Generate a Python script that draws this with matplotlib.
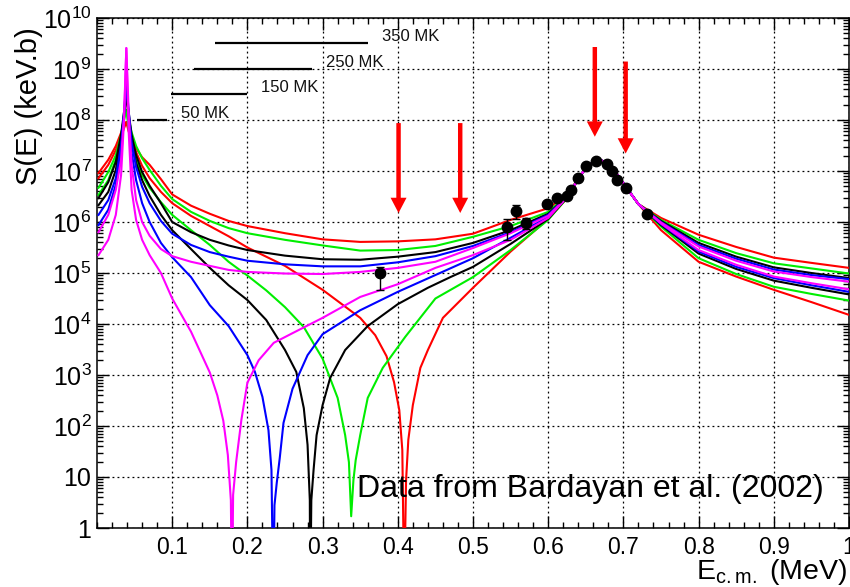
import matplotlib
matplotlib.use("Agg")
import matplotlib.pyplot as plt
from matplotlib.ticker import FixedLocator, FixedFormatter, NullFormatter

plt.rcParams['font.family'] = ['Liberation Sans', 'DejaVu Sans']
plt.rcParams['mathtext.default'] = 'regular'

# ---------------- data ----------------
# upper branches (no zero crossing) share one energy grid
energy_a = [0.002, 0.015, 0.025, 0.032, 0.036, 0.039, 0.042, 0.046, 0.052, 0.06,
            0.07, 0.085, 0.1, 0.125, 0.15, 0.175, 0.2, 0.25, 0.3, 0.35,
            0.4, 0.45, 0.5, 0.55, 0.6, 0.625, 0.645, 0.665, 0.685, 0.7,
            0.72, 0.75, 0.8, 0.85, 0.9, 0.95, 1.0]
red_a = [7.24e6, 1.32e7, 2.57e7, 4.68e7, 6.92e7, 9.12e7, 6.92e7, 4.07e7, 2.82e7, 1.86e7,
         1.32e7, 6.92e6, 3.47e6, 2.09e6, 1.45e6, 1.05e6, 8.32e5, 6.03e5, 4.57e5, 4.07e5,
         4.17e5, 4.57e5, 5.89e5, 1.10e6, 1.86e6, 3.4e6, 9.12e6, 1.82e7, 1.20e7, 5.75e6,
         2.24e6, 6.92e5, 1.66e5, 8.51e4, 4.68e4, 2.69e4, 1.51e4]
green_a = [3.39e6, 6.61e6, 1.66e7, 4.47e7, 1.0e8, 1.58e8, 1.10e8, 5.75e7, 3.09e7, 1.78e7,
           1.05e7, 5.13e6, 2.82e6, 1.58e6, 1.05e6, 7.59e5, 6.03e5, 4.47e5, 3.47e5, 2.75e5,
           2.82e5, 3.39e5, 5.13e5, 8.32e5, 1.58e6, 3.3e6, 9.12e6, 1.82e7, 1.20e7, 5.75e6,
           2.24e6, 8.13e5, 1.95e5, 9.55e4, 5.37e4, 3.89e4, 2.88e4]
black_a = [2.14e6, 3.89e6, 1.05e7, 4.07e7, 1.26e8, 3.09e8, 1.45e8, 5.13e7, 2.04e7, 9.55e6,
           5.13e6, 2.34e6, 1.0e6, 6.31e5, 4.47e5, 3.47e5, 2.82e5, 2.19e5, 1.86e5, 1.82e5,
           2.09e5, 2.57e5, 3.89e5, 6.92e5, 1.45e6, 3.2e6, 9.12e6, 1.82e7, 1.20e7, 5.75e6,
           2.24e6, 8.71e5, 2.40e5, 1.20e5, 7.08e4, 5.13e4, 3.80e4]
blue_a = [8.71e5, 1.74e6, 5.37e6, 2.57e7, 1.26e8, 5.62e8, 1.58e8, 3.72e7, 1.20e7, 4.90e6,
          2.34e6, 1.05e6, 5.89e5, 3.55e5, 2.57e5, 2.09e5, 1.74e5, 1.48e5, 1.35e5, 1.35e5,
          1.62e5, 2.14e5, 3.39e5, 6.31e5, 1.38e6, 3.15e6, 9.12e6, 1.82e7, 1.20e7, 5.75e6,
          2.24e6, 9.12e5, 2.63e5, 1.32e5, 7.94e4, 5.75e4, 4.27e4]
magenta_a = [2.24e5, 4.47e5, 1.38e6, 8.32e6, 1.0e8, 2.57e9, 1.58e8, 1.32e7, 2.69e6, 1.0e6,
             5.37e5, 2.95e5, 2.14e5, 1.66e5, 1.38e5, 1.15e5, 1.05e5, 9.77e4, 9.55e4, 1.05e5,
             1.26e5, 1.66e5, 3.09e5, 6.03e5, 1.32e6, 3.1e6, 9.12e6, 1.82e7, 1.20e7, 5.75e6,
             2.24e6, 9.33e5, 2.82e5, 1.45e5, 8.51e4, 6.31e4, 4.79e4]

# lower branches (destructive interference, zero crossing)
red_b_e = [0.002, 0.015, 0.025, 0.032, 0.036, 0.039, 0.042, 0.046, 0.052, 0.06,
           0.07, 0.085, 0.1, 0.125, 0.15, 0.175, 0.2, 0.25, 0.3, 0.35,
           0.37, 0.385, 0.395, 0.402, 0.406, 0.4085, 0.411, 0.414, 0.42, 0.43,
           0.44, 0.46, 0.5, 0.55, 0.6, 0.625, 0.645, 0.665, 0.685, 0.7,
           0.72, 0.75, 0.8, 0.85, 0.9, 0.95, 1.0]
red_b = [9.12e6, 1.66e7, 3.09e7, 5.62e7, 7.94e7, 9.12e7, 6.03e7, 4.07e7, 2.34e7, 1.26e7,
         7.24e6, 3.89e6, 2.34e6, 1.32e6, 8.32e5, 5.25e5, 3.16e5, 1.38e5, 4.68e4, 1.32e4,
         6.03e3, 2.34e3, 724, 204, 33.9, 0.05, 8.7, 53.7, 257, 1.38e3,
         3.09e3, 1.32e4, 5.13e4, 2.63e5, 1.15e6, 2.9e6, 9.12e6, 1.82e7, 1.20e7, 5.75e6,
         2.24e6, 1.20e6, 5.62e5, 3.24e5, 2.0e5, 1.58e5, 1.26e5]
green_b_e = [0.002, 0.015, 0.025, 0.032, 0.036, 0.039, 0.042, 0.046, 0.052, 0.06,
             0.07, 0.085, 0.1, 0.125, 0.15, 0.175, 0.2, 0.225, 0.25, 0.275,
             0.3, 0.32, 0.33, 0.335, 0.338, 0.341, 0.344, 0.35, 0.36, 0.38,
             0.41, 0.45, 0.5, 0.55, 0.6, 0.625, 0.645, 0.665, 0.685, 0.7,
             0.72, 0.75, 0.8, 0.85, 0.9, 0.95, 1.0]
green_b = [4.68e6, 9.55e6, 2.04e7, 5.13e7, 1.10e8, 1.58e8, 6.92e7, 3.24e7, 1.66e7, 8.32e6,
           4.68e6, 2.45e6, 1.38e6, 6.92e5, 3.55e5, 1.66e5, 8.91e4, 4.57e4, 2.14e4, 8.71e3,
           2.09e3, 355, 66.1, 19.5, 1.7, 8.7, 21.4, 66.1, 355, 1.38e3,
           5.62e3, 3.16e4, 8.32e4, 2.82e5, 1.1e6, 2.95e6, 9.12e6, 1.82e7, 1.20e7, 5.75e6,
           2.24e6, 1.10e6, 4.47e5, 2.45e5, 1.55e5, 1.23e5, 9.77e4]
black_b_e = [0.002, 0.015, 0.025, 0.032, 0.036, 0.039, 0.042, 0.046, 0.052, 0.06,
             0.07, 0.085, 0.1, 0.125, 0.15, 0.175, 0.2, 0.225, 0.25, 0.265,
             0.275, 0.28, 0.283, 0.2835, 0.285, 0.288, 0.292, 0.3, 0.31, 0.33,
             0.36, 0.4, 0.44, 0.47, 0.5, 0.55, 0.6, 0.625, 0.645, 0.665,
             0.685, 0.7, 0.72, 0.75, 0.8, 0.85, 0.9, 0.95, 1.0]
black_b = [2.95e6, 6.03e6, 1.51e7, 5.13e7, 1.45e8, 3.09e8, 1.10e8, 3.72e7, 1.45e7, 6.61e6,
           3.24e6, 1.38e6, 6.92e5, 2.95e5, 1.26e5, 5.75e4, 2.95e4, 1.20e4, 3.09e3, 1.15e3,
           224, 42.7, 3.5, 0.03, 3.5, 13.8, 66.1, 257, 871, 3.09e3,
           9.12e3, 2.45e4, 5.13e4, 8.32e4, 1.32e5, 3.72e5, 1.15e6, 3.0e6, 9.12e6, 1.82e7,
           1.20e7, 5.75e6, 2.24e6, 1.05e6, 3.89e5, 2.09e5, 1.29e5, 1.0e5, 7.94e4]
blue_b_e = [0.002, 0.015, 0.025, 0.032, 0.036, 0.039, 0.042, 0.046, 0.052, 0.06,
            0.07, 0.085, 0.1, 0.125, 0.15, 0.175, 0.2, 0.21, 0.22, 0.228,
            0.232, 0.2344, 0.236, 0.239, 0.243, 0.248, 0.26, 0.28, 0.3, 0.35,
            0.4, 0.45, 0.5, 0.55, 0.6, 0.625, 0.645, 0.665, 0.685, 0.7,
            0.72, 0.75, 0.8, 0.85, 0.9, 0.95, 1.0]
blue_b = [1.38e6, 2.69e6, 7.24e6, 3.24e7, 1.45e8, 5.62e8, 1.26e8, 2.34e7, 6.61e6, 2.34e6,
          1.0e6, 3.89e5, 2.04e5, 8.32e4, 2.34e4, 9.12e3, 2.45e3, 1.15e3, 372, 83.2,
          13.8, 0.03, 2.8, 7.6, 23.4, 115, 537, 2.45e3, 6.31e3, 1.86e4,
          4.27e4, 9.12e4, 1.95e5, 4.90e5, 1.26e6, 3.05e6, 9.12e6, 1.82e7, 1.20e7, 5.75e6,
          2.24e6, 1.0e6, 3.55e5, 1.91e5, 1.17e5, 9.12e4, 7.59e4]
magenta_b_e = [0.002, 0.015, 0.025, 0.032, 0.036, 0.039, 0.042, 0.046, 0.052, 0.06,
               0.07, 0.085, 0.1, 0.125, 0.15, 0.16, 0.168, 0.174, 0.178, 0.1795,
               0.181, 0.185, 0.192, 0.2, 0.215, 0.235, 0.26, 0.3, 0.35, 0.4,
               0.45, 0.5, 0.55, 0.6, 0.625, 0.645, 0.665, 0.685, 0.7, 0.72,
               0.75, 0.8, 0.85, 0.9, 0.95, 1.0]
magenta_b = [6.31e5, 1.38e6, 4.27e6, 1.66e7, 1.26e8, 2.57e9, 6.31e7, 4.27e6, 1.10e6, 4.47e5,
             2.24e5, 1.0e5, 3.16e4, 7.08e3, 1.12e3, 398, 126, 26.9, 3.5, 0.03,
             4.47, 19.5, 132, 708, 1.95e3, 4.27e3, 6.61e3, 1.32e4, 3.39e4, 6.03e4,
             1.26e5, 2.24e5, 4.47e5, 1.20e6, 3.05e6, 9.12e6, 1.82e7, 1.20e7, 5.75e6, 2.24e6,
             9.77e5, 3.31e5, 1.74e5, 1.07e5, 8.32e4, 6.76e4]

# measured S-factor (Bardayan et al. 2002)
data_e = [0.376, 0.545, 0.557, 0.571, 0.598, 0.612, 0.625, 0.630, 0.639, 0.650,
          0.664, 0.678, 0.685, 0.691, 0.703, 0.732]
data_s = [1.0e5, 8.1e5, 1.66e6, 9.7e5, 2.24e6, 2.9e6, 3.2e6, 4.2e6, 7.2e6, 1.27e7,
          1.58e7, 1.37e7, 1.0e7, 6.6e6, 4.7e6, 1.41e6]
data_lo = [4.6e4, 4.4e5, 1.12e6, 7.2e5, 2.24e6, 2.9e6, 3.2e6, 4.2e6, 7.2e6, 1.27e7,
           1.58e7, 1.37e7, 1.0e7, 6.6e6, 4.7e6, 1.41e6]
data_hi = [1.3e5, 1.15e6, 2.2e6, 1.22e6, 2.24e6, 2.9e6, 3.2e6, 4.2e6, 7.2e6, 1.27e7,
           1.58e7, 1.37e7, 1.0e7, 6.6e6, 4.7e6, 1.41e6]

# Gamow windows
temp_labels = ['50 MK', '150 MK', '250 MK', '350 MK']
window_lo = [0.053, 0.098, 0.129, 0.157]
window_hi = [0.093, 0.199, 0.286, 0.360]
window_s = [1.0e8, 3.2e8, 1.0e9, 3.2e9]

# resonance arrows
arrow_e = [0.401, 0.483, 0.662, 0.703]
arrow_top = [8.7e7, 8.7e7, 2.7e9, 1.4e9]
arrow_tip = [1.5e6, 1.5e6, 4.7e7, 2.2e7]

y_ticks = [1, 10, 1e2, 1e3, 1e4, 1e5, 1e6, 1e7, 1e8, 1e9, 1e10]
y_tick_labels = ['1', '10', '$10^{2}$', '$10^{3}$', '$10^{4}$', '$10^{5}$', '$10^{6}$',
                 '$10^{7}$', '$10^{8}$', '$10^{9}$', '$10^{10}$']
x_ticks = [0.1, 0.2, 0.3, 0.4, 0.5, 0.6, 0.7, 0.8, 0.9, 1.0]
x_tick_labels = ['0.1', '0.2', '0.3', '0.4', '0.5', '0.6', '0.7', '0.8', '0.9', '1']

# ---------------- plotting ----------------
fig = plt.figure(figsize=(8.5, 5.87), dpi=100)
ax = fig.add_axes([97 / 850, 59 / 587, 752 / 850, 510 / 587])
ax.set_yscale('log')
ax.set_xlim(0, 1)
ax.set_ylim(1, 1e10)

curves = [
    ('red', energy_a, red_a), ('red', red_b_e, red_b),
    ('#00ee00', energy_a, green_a), ('#00ee00', green_b_e, green_b),
    ('black', energy_a, black_a), ('black', black_b_e, black_b),
    ('blue', energy_a, blue_a), ('blue', blue_b_e, blue_b),
    ('magenta', energy_a, magenta_a), ('magenta', magenta_b_e, magenta_b),
]
for col, xe, ys in curves:
    ax.plot(xe, ys, color=col, lw=1.5, zorder=3)

lo_err = [s - l for s, l in zip(data_s, data_lo)]
hi_err = [h - s for s, h in zip(data_s, data_hi)]
ax.errorbar(data_e, data_s, yerr=[lo_err, hi_err], fmt='o', color='black', ms=7.5,
            elinewidth=1.0, capsize=3, capthick=1.0, zorder=5)

ax.hlines(window_s, window_lo, window_hi, color='black', lw=1.6, zorder=4)
for lab, xh, s in zip(temp_labels, window_hi, window_s):
    ax.annotate(lab, xy=(xh, s), xytext=(10, 4.5), textcoords='offset points',
                ha='left', va='center', fontsize=12, color='#111111')

for xe, yt, yb in zip(arrow_e, arrow_top, arrow_tip):
    ax.annotate('', xy=(xe, yb), xytext=(xe, yt),
                arrowprops=dict(arrowstyle='simple,head_length=1.1,head_width=1.15,tail_width=0.32',
                                color='red', lw=0, shrinkA=0, shrinkB=0, mutation_scale=10),
                zorder=6)

ax.text(0.346, 0.061, 'Data from Bardayan et al. (2002)', transform=ax.transAxes,
        fontsize=23, ha='left', va='baseline', color='black', zorder=7)

# axes styling (ROOT look)
ax.xaxis.set_major_locator(FixedLocator(x_ticks))
ax.xaxis.set_major_formatter(FixedFormatter(x_tick_labels))
ax.xaxis.set_minor_locator(FixedLocator([i * 0.02 for i in range(51)]))
ax.yaxis.set_major_locator(FixedLocator(y_ticks))
ax.yaxis.set_major_formatter(FixedFormatter(y_tick_labels))
ax.yaxis.set_minor_locator(FixedLocator([m * 10 ** d for d in range(10) for m in range(2, 10)]))
ax.yaxis.set_minor_formatter(NullFormatter())
ax.tick_params(which='both', direction='in', top=True, right=True, width=1.0)
ax.tick_params(which='major', length=8.5)
ax.tick_params(which='minor', length=4.5)
ax.tick_params(axis='x', labelsize=16.5, pad=6)
ax.tick_params(axis='y', labelsize=18, pad=4)
for sp in ax.spines.values():
    sp.set_linewidth(1.1)
ax.grid(True, which='major', color='black', linestyle=(0, (1.5, 2.5)), lw=0.9, zorder=1)

ax.set_ylabel('S(E) (keV.b)', fontsize=21)
ax.yaxis.set_label_coords(-0.072, 0.827)
ax.set_xlabel('E$_{c.m.}$ (MeV)', fontsize=20.5, ha='right')
ax.xaxis.set_label_coords(0.998, -0.057)

fig.savefig('out.png', dpi=100)
